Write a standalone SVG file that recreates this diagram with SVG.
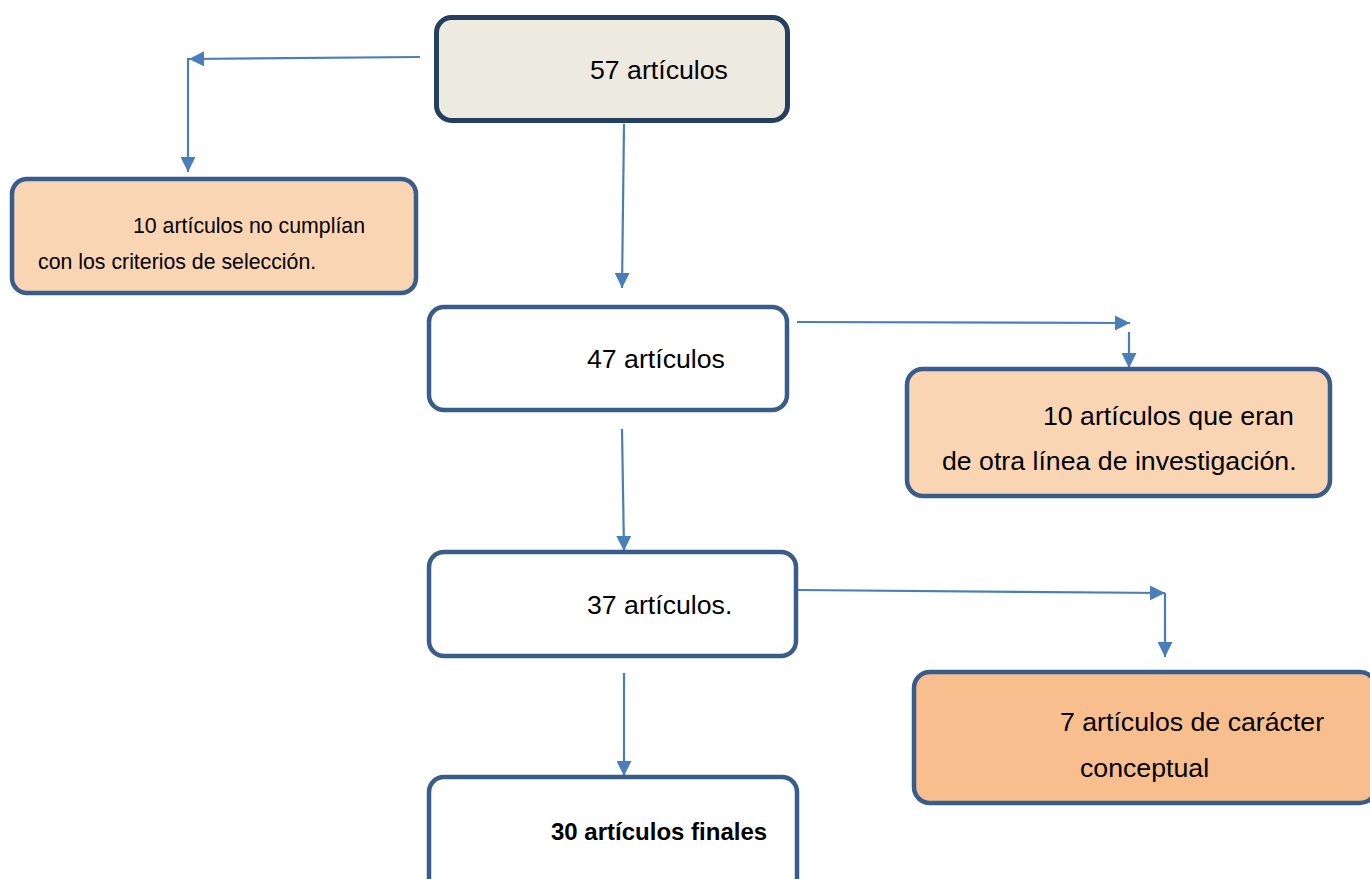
<svg xmlns="http://www.w3.org/2000/svg" width="1370" height="879" viewBox="0 0 1370 879">
<style>
.box{stroke:#385d8a;stroke-width:4.5}
.t{font-family:"Liberation Sans",Arial,sans-serif;fill:#000}
.big{font-size:26.7px}
.small{font-size:21.3px}
.bold{font-size:24px;font-weight:bold}
.c{fill:none;stroke:#4a7ebb;stroke-width:2.2}
</style>
<defs>
<marker id="ah" viewBox="0 0 10 10" refX="10" refY="5" markerWidth="15" markerHeight="15" markerUnits="userSpaceOnUse" orient="auto">
<path d="M0,0 L10,5 L0,10 Z" fill="#4a7ebb"/>
</marker>
</defs>
<g id="connectors">
<line class="c" x1="420" y1="57" x2="189" y2="59" marker-end="url(#ah)"/>
<line class="c" x1="188" y1="58" x2="188" y2="172" marker-end="url(#ah)"/>
<line class="c" x1="624" y1="124" x2="622" y2="288" marker-end="url(#ah)"/>
<line class="c" x1="797" y1="322" x2="1130" y2="323" marker-end="url(#ah)"/>
<line class="c" x1="1129" y1="332" x2="1129" y2="368" marker-end="url(#ah)"/>
<line class="c" x1="622" y1="429" x2="624" y2="551" marker-end="url(#ah)"/>
<line class="c" x1="798" y1="590" x2="1165" y2="593" marker-end="url(#ah)"/>
<line class="c" x1="1165" y1="593" x2="1165" y2="657" marker-end="url(#ah)"/>
<line class="c" x1="624" y1="673" x2="624" y2="776" marker-end="url(#ah)"/>
</g>
<g id="n57">
<rect x="436.5" y="17.5" width="351" height="103" rx="15" fill="#edeae0" stroke="#243f60" stroke-width="5"/>
<text class="t big" x="590" y="79">57 artículos</text>
</g>
<g id="n10a">
<rect class="box" x="12" y="179" width="404" height="114" rx="15" fill="#fad5b4"/>
<text class="t small" x="133" y="233">10 artículos no cumplían</text>
<text class="t small" x="38" y="269">con los criterios de selección.</text>
</g>
<g id="n47">
<rect class="box" x="429" y="307" width="358" height="103" rx="15" fill="#ffffff"/>
<text class="t big" x="587" y="368">47 artículos</text>
</g>
<g id="n10b">
<rect class="box" x="907" y="369" width="423" height="127" rx="16" fill="#fad5b4"/>
<text class="t big" x="1043" y="425">10 artículos que eran</text>
<text class="t big" x="942" y="470">de otra línea de investigación.</text>
</g>
<g id="n37">
<rect class="box" x="429" y="552" width="367" height="104" rx="15" fill="#ffffff"/>
<text class="t big" x="587" y="614">37 artículos.</text>
</g>
<g id="n7">
<rect class="box" x="914" y="672" width="462" height="131" rx="16" fill="#f8be8e"/>
<text class="t big" x="1060" y="731">7 artículos de carácter</text>
<text class="t big" x="1080" y="777">conceptual</text>
</g>
<g id="n30">
<rect class="box" x="429" y="777" width="368" height="130" rx="15" fill="#ffffff"/>
<text class="t bold" x="551" y="840">30 artículos finales</text>
</g>
</svg>
